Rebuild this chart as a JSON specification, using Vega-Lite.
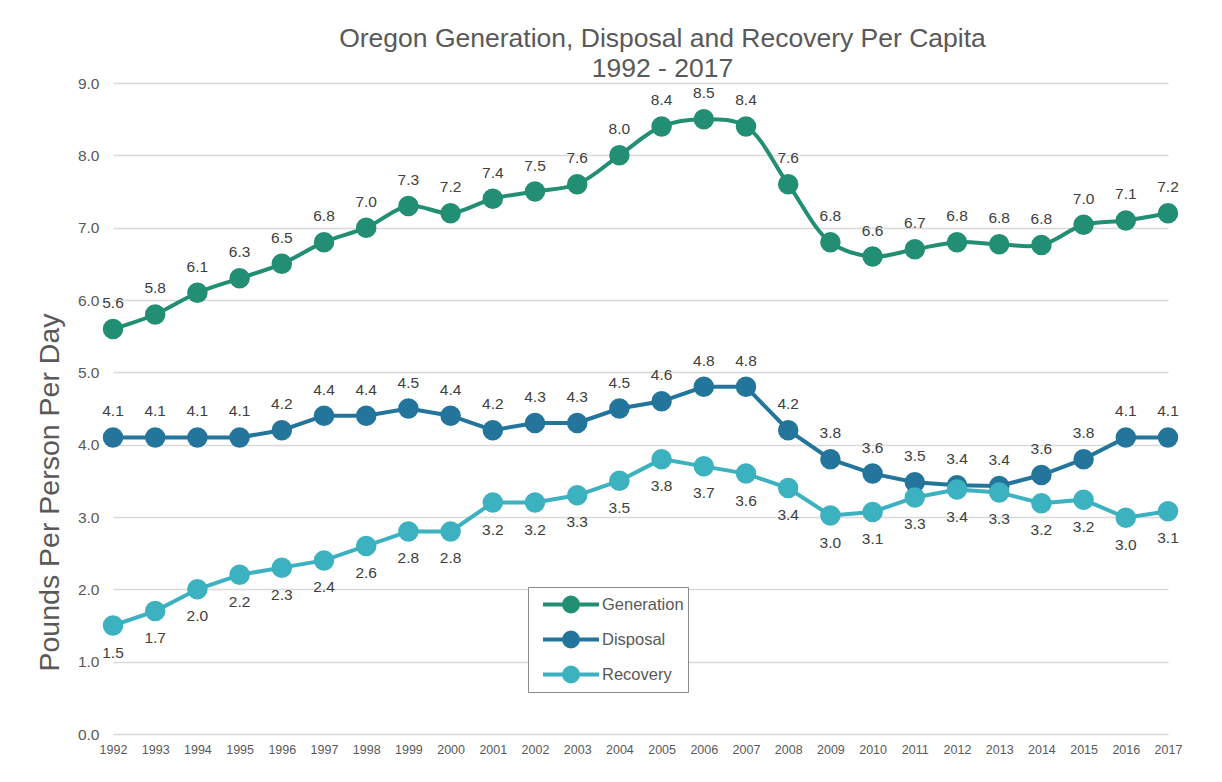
{
  "$schema": "https://vega.github.io/schema/vega-lite/v6.json",
  "width": 1055,
  "height": 651,
  "autosize": {"type": "none"},
  "padding": {"left": 113, "top": 83, "right": 54, "bottom": 48},
  "background": "white",
  "config": {"view": {"stroke": null}, "font": "Liberation Sans"},
  "title": {
    "text": ["Oregon Generation, Disposal and Recovery Per Capita", "1992 - 2017"],
    "fontSize": 26.5, "fontWeight": "normal", "color": "#595959", "lineHeight": 30,
    "dx": 22, "offset": -6, "font": "Liberation Sans"
  },
  "data": {"values": [
    {"year": "1992", "series": "Generation", "value": 5.6},
    {"year": "1993", "series": "Generation", "value": 5.8},
    {"year": "1994", "series": "Generation", "value": 6.1},
    {"year": "1995", "series": "Generation", "value": 6.3},
    {"year": "1996", "series": "Generation", "value": 6.5},
    {"year": "1997", "series": "Generation", "value": 6.8},
    {"year": "1998", "series": "Generation", "value": 7.0},
    {"year": "1999", "series": "Generation", "value": 7.3},
    {"year": "2000", "series": "Generation", "value": 7.2},
    {"year": "2001", "series": "Generation", "value": 7.4},
    {"year": "2002", "series": "Generation", "value": 7.5},
    {"year": "2003", "series": "Generation", "value": 7.6},
    {"year": "2004", "series": "Generation", "value": 8.0},
    {"year": "2005", "series": "Generation", "value": 8.4},
    {"year": "2006", "series": "Generation", "value": 8.5},
    {"year": "2007", "series": "Generation", "value": 8.4},
    {"year": "2008", "series": "Generation", "value": 7.6},
    {"year": "2009", "series": "Generation", "value": 6.8},
    {"year": "2010", "series": "Generation", "value": 6.6},
    {"year": "2011", "series": "Generation", "value": 6.7},
    {"year": "2012", "series": "Generation", "value": 6.8},
    {"year": "2013", "series": "Generation", "value": 6.77},
    {"year": "2014", "series": "Generation", "value": 6.76},
    {"year": "2015", "series": "Generation", "value": 7.04},
    {"year": "2016", "series": "Generation", "value": 7.1},
    {"year": "2017", "series": "Generation", "value": 7.2},
    {"year": "1992", "series": "Disposal", "value": 4.1},
    {"year": "1993", "series": "Disposal", "value": 4.1},
    {"year": "1994", "series": "Disposal", "value": 4.1},
    {"year": "1995", "series": "Disposal", "value": 4.1},
    {"year": "1996", "series": "Disposal", "value": 4.2},
    {"year": "1997", "series": "Disposal", "value": 4.4},
    {"year": "1998", "series": "Disposal", "value": 4.4},
    {"year": "1999", "series": "Disposal", "value": 4.5},
    {"year": "2000", "series": "Disposal", "value": 4.4},
    {"year": "2001", "series": "Disposal", "value": 4.2},
    {"year": "2002", "series": "Disposal", "value": 4.3},
    {"year": "2003", "series": "Disposal", "value": 4.3},
    {"year": "2004", "series": "Disposal", "value": 4.5},
    {"year": "2005", "series": "Disposal", "value": 4.6},
    {"year": "2006", "series": "Disposal", "value": 4.8},
    {"year": "2007", "series": "Disposal", "value": 4.8},
    {"year": "2008", "series": "Disposal", "value": 4.2},
    {"year": "2009", "series": "Disposal", "value": 3.8},
    {"year": "2010", "series": "Disposal", "value": 3.6},
    {"year": "2011", "series": "Disposal", "value": 3.48},
    {"year": "2012", "series": "Disposal", "value": 3.44},
    {"year": "2013", "series": "Disposal", "value": 3.43},
    {"year": "2014", "series": "Disposal", "value": 3.58},
    {"year": "2015", "series": "Disposal", "value": 3.8},
    {"year": "2016", "series": "Disposal", "value": 4.1},
    {"year": "2017", "series": "Disposal", "value": 4.1},
    {"year": "1992", "series": "Recovery", "value": 1.5},
    {"year": "1993", "series": "Recovery", "value": 1.7},
    {"year": "1994", "series": "Recovery", "value": 2.0},
    {"year": "1995", "series": "Recovery", "value": 2.2},
    {"year": "1996", "series": "Recovery", "value": 2.3},
    {"year": "1997", "series": "Recovery", "value": 2.4},
    {"year": "1998", "series": "Recovery", "value": 2.6},
    {"year": "1999", "series": "Recovery", "value": 2.8},
    {"year": "2000", "series": "Recovery", "value": 2.8},
    {"year": "2001", "series": "Recovery", "value": 3.2},
    {"year": "2002", "series": "Recovery", "value": 3.2},
    {"year": "2003", "series": "Recovery", "value": 3.3},
    {"year": "2004", "series": "Recovery", "value": 3.5},
    {"year": "2005", "series": "Recovery", "value": 3.8},
    {"year": "2006", "series": "Recovery", "value": 3.7},
    {"year": "2007", "series": "Recovery", "value": 3.6},
    {"year": "2008", "series": "Recovery", "value": 3.4},
    {"year": "2009", "series": "Recovery", "value": 3.02},
    {"year": "2010", "series": "Recovery", "value": 3.07},
    {"year": "2011", "series": "Recovery", "value": 3.27},
    {"year": "2012", "series": "Recovery", "value": 3.38},
    {"year": "2013", "series": "Recovery", "value": 3.34},
    {"year": "2014", "series": "Recovery", "value": 3.19},
    {"year": "2015", "series": "Recovery", "value": 3.24},
    {"year": "2016", "series": "Recovery", "value": 2.99},
    {"year": "2017", "series": "Recovery", "value": 3.08}
  ]},
  "encoding": {
    "x": {
      "field": "year", "type": "ordinal",
      "scale": {"type": "point", "padding": 0},
      "axis": {"title": null, "labelAngle": 0, "domain": false, "ticks": false, "grid": false,
               "labelFontSize": 12.5, "labelColor": "#595959", "labelPadding": 9}
    },
    "y": {
      "field": "value", "type": "quantitative",
      "scale": {"domain": [0, 9], "nice": false},
      "axis": {"title": "Pounds Per Person Per Day", "values": [0,1,2,3,4,5,6,7,8,9], "format": ".1f",
               "domain": false, "ticks": false, "grid": true, "gridColor": "#D9D9D9", "gridWidth": 1.5,
               "labelFontSize": 15.5, "labelColor": "#595959", "labelPadding": 14,
               "titleFontSize": 28.5, "titleFontWeight": "normal", "titleColor": "#595959",
               "titleX": -55, "titleY": 409, "titleBaseline": "alphabetic", "titleAngle": -90, "titleAlign": "center"}
    },
    "color": {
      "field": "series", "type": "nominal",
      "scale": {"domain": ["Generation", "Disposal", "Recovery"], "range": ["#228E74", "#23759B", "#3CB1BF"]},
      "legend": {
        "orient": "none", "legendX": 415, "legendY": 504, "title": null, "direction": "vertical",
        "fillColor": "white", "strokeColor": "#8C8C8C", "padding": 4,
        "symbolType": "M-1,0L1,0M0.25,0A0.25,0.25,0,1,1,-0.25,0A0.25,0.25,0,1,1,0.25,0Z",
        "symbolSize": 3136, "symbolStrokeWidth": 4, "clipHeight": 27, "rowPadding": 8,
        "labelFontSize": 16.5, "labelColor": "#595959", "labelOffset": 1, "symbolOffset": 9,
        "encode": {"symbols": {"update": {
          "fill": {"signal": "scale('color', datum.value)"},
          "stroke": {"signal": "scale('color', datum.value)"},
          "shape": {"value": "M-1,0L1,0M0.25,0A0.25,0.25,0,1,1,-0.25,0A0.25,0.25,0,1,1,0.25,0Z"},
          "size": {"value": 3136},
          "strokeWidth": {"value": 4}
        }}}
      }
    }
  },
  "layer": [
    {"transform": [{"filter": "datum.series === 'Generation'"}],
     "mark": {"type": "line", "strokeWidth": 4, "interpolate": "catmull-rom"}},
    {"transform": [{"filter": "datum.series !== 'Generation'"}],
     "mark": {"type": "line", "strokeWidth": 4}},
    {"mark": {"type": "point", "filled": true, "size": 420, "opacity": 1}},
    {"transform": [{"filter": "datum.series !== 'Recovery'"}],
     "mark": {"type": "text", "dy": -26, "fontSize": 15.5, "baseline": "middle"},
     "encoding": {"text": {"field": "value", "type": "quantitative", "format": ".1f"}, "color": {"value": "#404040"}}},
    {"transform": [{"filter": "datum.series === 'Recovery'"}],
     "mark": {"type": "text", "dy": 27, "fontSize": 15.5, "baseline": "middle"},
     "encoding": {"text": {"field": "value", "type": "quantitative", "format": ".1f"}, "color": {"value": "#404040"}}}
  ]
}
